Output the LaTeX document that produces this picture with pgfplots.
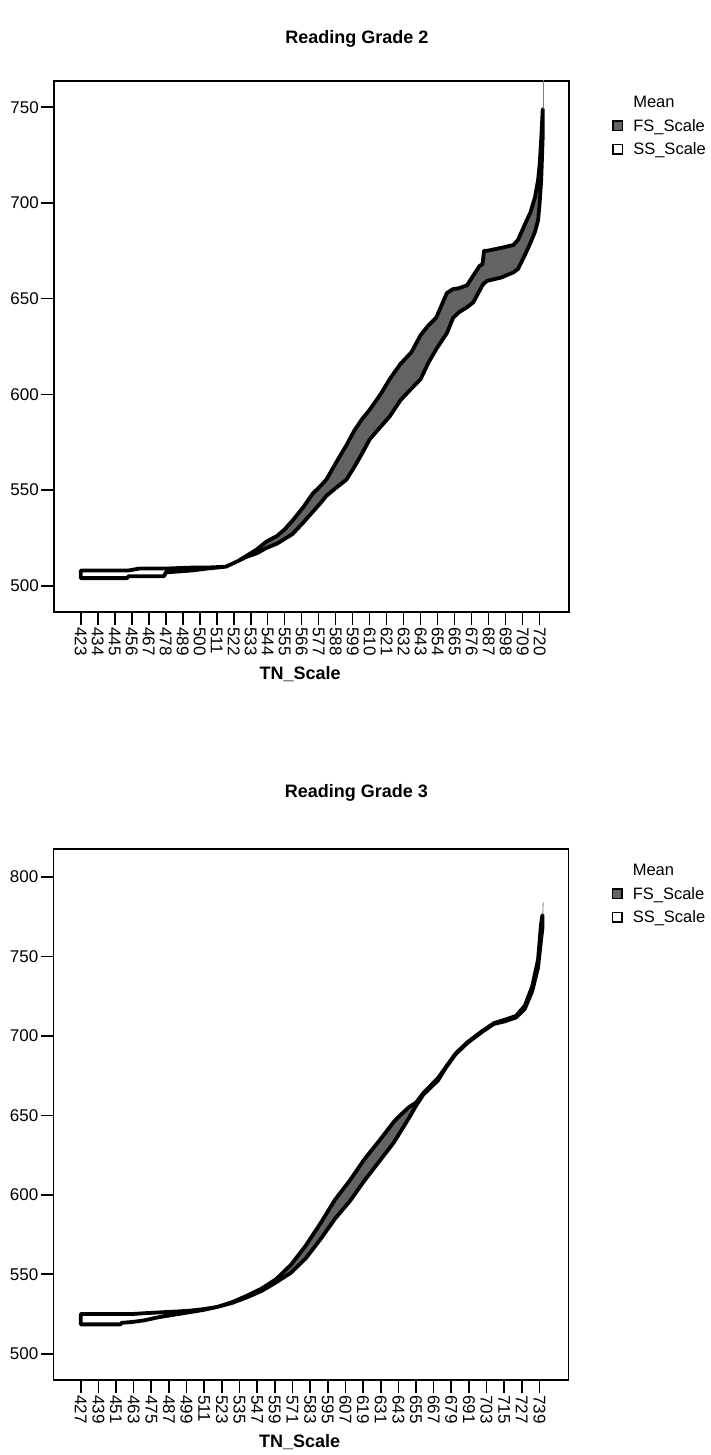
\documentclass[border=0pt]{standalone}
\usepackage{fontspec}
\setmainfont{Liberation Sans}
\usepackage{pgfplots}
\usepackage{pgfplotstable}
\pgfplotsset{compat=1.18}
\usepgfplotslibrary{fillbetween}

\definecolor{fsgray}{RGB}{99,99,99}

% Reading Grade 2: mean FS_Scale and SS_Scale per TN_Scale
\pgfplotstableread{
x fs ss
423 504 508
453 504 508
454 505 508
461 505 509
477 505 509
478 507 509
495 508 509.5
505 509 509.5
517 510 510
525 513 513
530 515.5 515
537 519 517
543 523 519.7
550 526 522
555 529.5 524.5
560 534 527
567 541 533
573 548 538.5
578 552 543
582 555.5 547
588 564 551
595 573.5 555.5
600 581 562
605 587 569
610 592 576.5
617 600 583
623 608 588.5
630 616 597
637 622 603
643 631 608
648 636 616.5
653 640 623.5
660 653 632
664 655 640
668 655.5 643
673 657 645.5
677 662 648
681 667 654
683 668 657
684 675 658
686 675 659.3
695 676.5 661
703 678 663.7
706 680.7 665.5
710 688 672
714 695 679
717 703 685
719 712 691
720 720 700
721 733 712
722 749 735
}\gradetwo

% Reading Grade 3
\pgfplotstableread{
x fs ss
427 518.5 525
454 518.5 525
455 519.5 525
462 520 525
470 521 525.5
480 523 526
490 524.5 526.5
500 526 527
510 527.5 528
520 529.5 529.5
530 532.5 532
540 536.5 535.5
550 541 539.5
560 547 545
570 556 551
580 568 560
590 582 572
600 597 585
610 609 596
620 622.5 609
630 634 621
640 646 633
642 648 636
650 655 648
655 658 656
660 664 663
670 673.5 672
675 680 679.5
682 689 688.5
690 696 695.5
700 703 702.5
708 708 707.5
715 710 709
723 712.5 711.5
729 719 717
734 731 728
738 748 743
740 770 760
741 776 768
}\gradethree

\pgfplotsset{
  spss/.style={
    scale only axis, width=515pt, height=531pt,
    axis line style={line width=1.6pt},
    every tick/.style={black, line width=1.6pt},
    tick align=outside, major tick length=12.5pt,
    xtick pos=bottom, ytick pos=left,
    /pgf/number format/assume math mode=true,
    ticklabel style={font=\fontsize{17}{20}\selectfont, inner sep=2.5pt},
    x tick label style={rotate=-90, anchor=west},
    xlabel style={font=\bfseries\fontsize{18}{22}\selectfont, at={(0.478,-0.128)}, anchor=base},
    title style={font=\bfseries\fontsize{18}{22}\selectfont, at={(0.588,1.06)}, anchor=base},
    legend style={draw=none, fill=none, at={(1.0835,0.9736)}, anchor=north west,
      font=\fontsize{16.5}{19}\selectfont, row sep=8pt, column sep=9pt, inner sep=0pt,
      nodes={inner sep=1pt}},
    legend cell align=left,
    xlabel={TN\_Scale},
  },
  fsbox/.style={legend image code/.code={\draw[fill=fsgray, line width=1.5pt] (0pt,-4.8pt) rectangle (9.6pt,4.8pt);}},
  ssbox/.style={legend image code/.code={\draw[fill=white, line width=1.5pt] (0pt,-4.8pt) rectangle (9.6pt,4.8pt);}},
  outline/.style={draw=black, fill=none, line width=3.8pt, line join=round, forget plot},
}

\begin{document}
\begin{tikzpicture}
\begin{axis}[spss, at={(54pt,-612pt)}, anchor=south west,
  title={Reading Grade 2},
  xmin=405.7, xmax=739, ymin=486.3, ymax=763.7,
  xtick={423,434,...,720}, ytick={500,550,...,750}]
  \addlegendimage{empty legend}
  \addlegendentry{Mean}
  \addlegendimage{fsbox}
  \addlegendentry{FS\_Scale}
  \addlegendimage{ssbox}
  \addlegendentry{SS\_Scale}
  \addplot[draw=none, name path=fs, forget plot] table[x=x, y=fs] {\gradetwo};
  \addplot[draw=none, name path=ss, forget plot] table[x=x, y=ss] {\gradetwo};
  \addplot[fsgray, forget plot] fill between[of=fs and ss];
  \addplot[white, forget plot] fill between[of=fs and ss, soft clip={domain=423:519}];
  \addplot[outline] fill between[of=fs and ss];
  \addplot[gray, line width=0.8pt, forget plot] coordinates {(722.3,749) (722.3,764)};
\end{axis}

\begin{axis}[spss, at={(53.5pt,-1380pt)}, anchor=south west,
  title={Reading Grade 3}, title style={at={(0.588,1.085)}},
  xmin=408.5, xmax=758.7, ymin=483.5, ymax=817.5,
  xtick={427,439,...,739}, ytick={500,550,...,800}]
  \addlegendimage{empty legend}
  \addlegendentry{Mean}
  \addlegendimage{fsbox}
  \addlegendentry{FS\_Scale}
  \addlegendimage{ssbox}
  \addlegendentry{SS\_Scale}
  \addplot[draw=none, name path=fs, forget plot] table[x=x, y=fs] {\gradethree};
  \addplot[draw=none, name path=ss, forget plot] table[x=x, y=ss] {\gradethree};
  \addplot[fsgray, forget plot] fill between[of=fs and ss];
  \addplot[white, forget plot] fill between[of=fs and ss, soft clip={domain=427:521}];
  \addplot[outline] fill between[of=fs and ss];
  \addplot[gray, line width=0.8pt, forget plot] coordinates {(741.2,776) (741.5,784)};
\end{axis}
\path (0pt,0pt) rectangle (711pt,-1455pt);
\end{tikzpicture}
\end{document}
